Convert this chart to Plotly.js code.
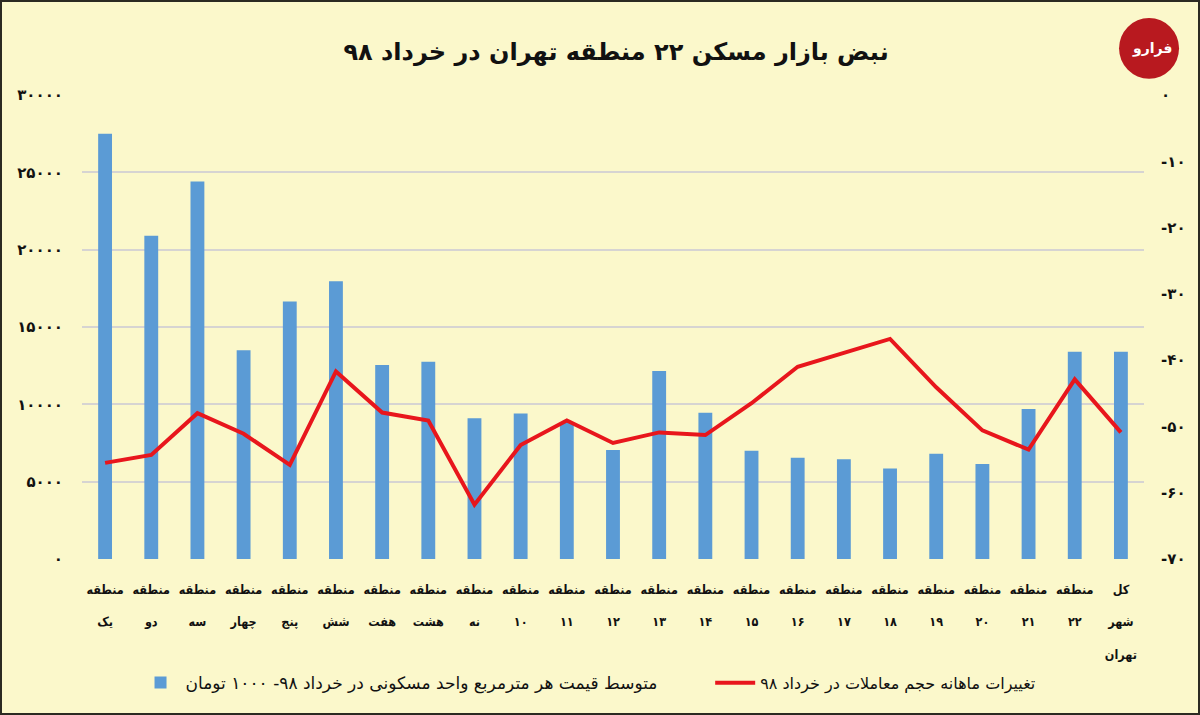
<!DOCTYPE html>
<html>
<head>
<meta charset="utf-8">
<script src="https://cdn.plot.ly/plotly-3.0.1.min.js"></script>
<style>
  html, body { margin: 0; padding: 0; background: #2b2a22; }
  #chart { width: 1196px; height: 711px; border: 2px solid #2b2a22; }
</style>
</head>
<body>
<div id="chart"></div>
<script>
// ---- data ----
const categories = [
  'منطقه یک', 'منطقه دو', 'منطقه سه', 'منطقه چهار', 'منطقه پنج',
  'منطقه شش', 'منطقه هفت', 'منطقه هشت', 'منطقه نه', 'منطقه ۱۰',
  'منطقه ۱۱', 'منطقه ۱۲', 'منطقه ۱۳', 'منطقه ۱۴', 'منطقه ۱۵',
  'منطقه ۱۶', 'منطقه ۱۷', 'منطقه ۱۸', 'منطقه ۱۹', 'منطقه ۲۰',
  'منطقه ۲۱', 'منطقه ۲۲', 'کل شهر تهران'
];
const pricePerSqm = [27500, 20900, 24400, 13500, 16650, 17950, 12550, 12750, 9100, 9400,
  8850, 7050, 12150, 9450, 7000, 6550, 6450, 5850, 6800, 6150, 9700, 13400, 13400];
const volumeChange = [-55.5, -54.3, -48.0, -51.1, -55.8, -41.7, -47.9, -49.1, -61.8, -52.8,
  -49.1, -52.5, -50.9, -51.3, -46.5, -41.0, -38.9, -36.8, -44.1, -50.6, -53.5, -42.9, -50.9];

const leftTickVals = [0, 5000, 10000, 15000, 20000, 25000, 30000];
const leftTickText = ['۰', '۵۰۰۰', '۱۰۰۰۰', '۱۵۰۰۰', '۲۰۰۰۰', '۲۵۰۰۰', '۳۰۰۰۰'];
const rightTickVals = [0, -10, -20, -30, -40, -50, -60, -70];
const rightTickText = ['۰', '-۱۰', '-۲۰', '-۳۰', '-۴۰', '-۵۰', '-۶۰', '-۷۰'];

const titleText = 'نبض بازار مسکن ۲۲ منطقه تهران در خرداد ۹۸';
const barName = 'متوسط قیمت هر مترمربع واحد مسکونی در خرداد ۹۸- ۱۰۰۰ تومان';
const lineName = 'تغییرات ماهانه حجم معاملات در خرداد ۹۸';
const logoText = 'فرارو';

// ---- chart ----
const FONT = 'DejaVu Sans Condensed, DejaVu Sans, sans-serif';
const FONT2 = 'DejaVu Sans, sans-serif';
const BG = '#FBF8CB';

// each word on its own line, with a spacer line between for wider line spacing
const categoryTickText = categories.map(c => c.split(' ').join('<br>\u00a0<br>'));

const traces = [
  {
    type: 'bar', x: categories, y: pricePerSqm, name: barName,
    marker: { color: '#5B9BD5' }, legend: 'legend', hoverinfo: 'y'
  },
  {
    type: 'scatter', mode: 'lines', x: categories, y: volumeChange, name: lineName,
    yaxis: 'y2', line: { color: '#E8161C', width: 4 }, legend: 'legend2', hoverinfo: 'y'
  }
];

const layout = {
  width: 1196, height: 711,
  paper_bgcolor: BG, plot_bgcolor: BG,
  margin: { l: 80, r: 54, t: 93, b: 150 },
  bargap: 0.7,
  font: { family: FONT, color: '#111' },
  title: {
    text: titleText, x: 0.5134, xanchor: 'center', y: 0.93, yanchor: 'middle', yref: 'container',
    font: { family: FONT2, size: 24, weight: 'bold', color: '#111' }
  },
  xaxis: {
    type: 'category', showgrid: false, zeroline: false, showline: false, ticks: '',
    tickmode: 'array', tickvals: categories, ticktext: categoryTickText,
    tickangle: 0, tickfont: { family: FONT, size: 12.5, weight: 'bold', color: '#111' },
    ticklabelstandoff: 21
  },
  yaxis: {
    range: [0, 30000], tickvals: leftTickVals, ticktext: leftTickText,
    showgrid: true, gridcolor: '#D6D4D2', gridwidth: 2, zeroline: false, showline: false,
    tickfont: { family: FONT2, size: 15, weight: 'bold', color: '#111' },
    ticklabelstandoff: 18
  },
  yaxis2: {
    range: [-70, 0], tickvals: rightTickVals, ticktext: rightTickText,
    overlaying: 'y', side: 'right', showgrid: false, zeroline: false, showline: false,
    tickfont: { family: FONT2, size: 15, weight: 'bold', color: '#111' },
    ticklabelstandoff: 16
  },
  showlegend: true,
  legend: {
    orientation: 'h', x: 0.0504, xanchor: 'left', y: -0.267, yanchor: 'middle',
    bgcolor: 'rgba(0,0,0,0)', font: { family: FONT2, size: 17, color: '#111' }, itemwidth: 40
  },
  legend2: {
    orientation: 'h', x: 0.5915, xanchor: 'left', y: -0.267, yanchor: 'middle',
    bgcolor: 'rgba(0,0,0,0)', font: { family: FONT2, size: 16, color: '#111' }, itemwidth: 40
  },
  shapes: [
    {
      type: 'circle', xref: 'paper', yref: 'paper',
      x0: 0.9765, x1: 1.0330, y0: 1.035, y1: 1.166,
      fillcolor: '#B8191F', line: { width: 0 }
    }
  ],
  annotations: [
    {
      text: logoText, xref: 'paper', yref: 'paper', x: 1.0075, y: 1.100,
      xanchor: 'center', yanchor: 'middle',
      showarrow: false, font: { family: FONT2, size: 14, weight: 'bold', color: '#FFFFFF' }
    }
  ]
};

Plotly.newPlot('chart', traces, layout, { displayModeBar: false, staticPlot: true });
</script>
</body>
</html>
